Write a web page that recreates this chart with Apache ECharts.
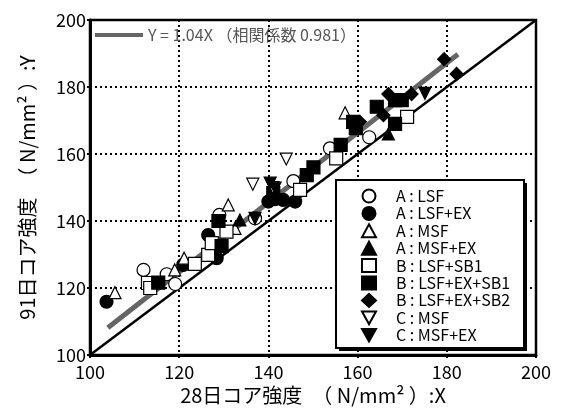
<!DOCTYPE html>
<html>
<head>
<meta charset="utf-8">
<script src="https://cdn.jsdelivr.net/npm/echarts@6/dist/echarts.min.js"></script>
<style>
  html, body { margin: 0; padding: 0; background: #fff; }
  #chart { width: 564px; height: 416px; }
</style>
</head>
<body>
<div id="chart"></div>
<script>
// 28-day core strength (X) vs 91-day core strength (Y), N/mm2
const aLSF      = [[112,125.4],[117.2,124.1],[119.1,121.2],[129,141.8],[137,140.8],[145.6,151.9],[153.8,161.7],[162.6,165]];
const aLSFEX    = [[103.7,115.9],[120.9,126.9],[128.4,128.9],[126.5,135.8],[140,145.8],[141.5,146.5],[143.3,146.3],[146,145.8]];
const aMSF      = [[105.6,118.6],[119,125.4],[121.1,128.9],[132.5,137.8],[131,144.8],[157.2,172.3]];
const aMSFEX    = [[133.6,140.3],[166.9,166]];
const bLSFSB1   = [[113,121.5],[113.5,120],[123.5,127.2],[126.5,129.9],[127.3,133.4],[130.6,136.8],[147.1,149.3],[155.2,158.7],[171.1,171.1]];
const bLSFEXSB1 = [[115.3,121.6],[129.5,132.5],[128.8,140],[141.1,148.3],[148.6,153.7],[150.1,156],[156.2,162.7],[159,169.6],[159.6,167.7],[164.3,174.1],[168.4,176.1],[169.9,176.1],[168.4,169]];
const bLSFEXSB2 = [[160.5,169.6],[165.8,171.6],[166.9,177.9],[172.1,177.9],[179.4,188.3],[182.2,183.9]];
const cMSF      = [[136.5,151],[141,150],[144,158.5]];
const cMSFEX    = [[137,140.8],[140.4,151.3],[141.5,149.8],[175.1,178.1]];

// regression Y = 1.04X over the measured X range, and the Y = X reference
const fitSlope = 1.04;
const fitRange = [104, 182.5];
const fitName = 'Y = 1.04X （相関係数 0.981）';
const identity = [[100, 100], [200, 200]];
const axisTicks = [100, 120, 140, 160, 180, 200];

const FONT = "'Noto Sans CJK JP', 'Noto Sans', sans-serif";
const INV_TRI = 'path://M0,0 L10,0 L5,9 Z';

function pts(name, data, symbol, filled, size) {
  return {
    name, type: 'scatter', data, symbol, symbolSize: size, z: 3,
    itemStyle: { color: filled ? '#000' : '#fff', borderColor: '#000', borderWidth: 1.2, opacity: 1 },
    emphasis: { disabled: true }
  };
}

const series = [
  {
    type: 'line', name: 'identity', data: identity, symbol: 'none', z: 2,
    lineStyle: { color: '#000', width: 2.5 }, silent: true
  },
  {
    type: 'line', name: fitName,
    data: fitRange.map(x => [x, fitSlope * x]),
    symbol: 'none', z: 2, color: '#666',
    lineStyle: { color: '#666', width: 5 }, silent: true
  },
  pts('A : LSF', aLSF, 'circle', false, 13),
  pts('A : LSF+EX', aLSFEX, 'circle', true, 13),
  pts('A : MSF', aMSF, 'triangle', false, 12),
  pts('A : MSF+EX', aMSFEX, 'triangle', true, 12),
  pts('B : LSF+SB1', bLSFSB1, 'rect', false, 13),
  pts('B : LSF+EX+SB1', bLSFEXSB1, 'rect', true, 13),
  pts('B : LSF+EX+SB2', bLSFEXSB2, 'diamond', true, 13),
  pts('C : MSF', cMSF, INV_TRI, false, 12),
  pts('C : MSF+EX', cMSFEX, INV_TRI, true, 12)
];

const valueAxis = (name, isY) => ({
  type: 'value', min: axisTicks[0], max: axisTicks[axisTicks.length - 1], interval: 20,
  name, nameLocation: 'middle',
  nameGap: isY ? 53 : 28,
  nameRotate: isY ? 90 : 0,
  nameTextStyle: { fontFamily: FONT, fontSize: 20, color: '#000' },
  axisLine: { show: true, onZero: false, lineStyle: { color: '#000', width: 3 } },
  axisTick: { show: true, length: 3, lineStyle: { color: '#000', width: 2 } },
  axisLabel: { fontFamily: FONT, fontSize: 18, color: '#000', margin: isY ? 4 : 8 },
  splitLine: { show: true, lineStyle: { color: '#000', width: 2, type: [2, 3] } }
});

const chart = echarts.init(document.getElementById('chart'), null, { renderer: 'canvas' });
chart.setOption({
  animation: false,
  backgroundColor: '#fff',
  textStyle: { fontFamily: FONT },
  grid: { left: 90, right: 28, top: 20, bottom: 61, show: true, borderColor: '#000', borderWidth: 2.5, backgroundColor: 'transparent' },
  xAxis: valueAxis('28日コア強度　（ N/mm² ）:X', false),
  yAxis: valueAxis('91日コア強度　（ N/mm² ）:Y', true),
  graphic: [
    { type: 'rect', z: 10, shape: { x: 339, y: 183, width: 188, height: 168 }, style: { fill: '#000' } },
    { type: 'rect', z: 11, shape: { x: 336, y: 180, width: 188, height: 168 }, style: { fill: '#fff', stroke: '#000', lineWidth: 2 } }
  ],
  legend: [
    {
      z: 20, left: 95, top: 27, padding: 0,
      data: [{ name: fitName, icon: 'rect', itemStyle: { color: '#666' } }],
      itemWidth: 48, itemHeight: 4,
      textStyle: { fontFamily: FONT, fontSize: 16, color: '#555' }
    },
    {
      z: 20, left: 361, top: 188, padding: 0, orient: 'vertical',
      itemWidth: 14, itemHeight: 13, itemGap: 1.4,
      data: ['A : LSF', 'A : LSF+EX', 'A : MSF', 'A : MSF+EX', 'B : LSF+SB1', 'B : LSF+EX+SB1', 'B : LSF+EX+SB2', 'C : MSF', 'C : MSF+EX'],
      textStyle: { fontFamily: FONT, fontSize: 16, lineHeight: 16, color: '#000', padding: [0, 0, 0, 15] }
    }
  ],
  series
});
</script>
</body>
</html>
